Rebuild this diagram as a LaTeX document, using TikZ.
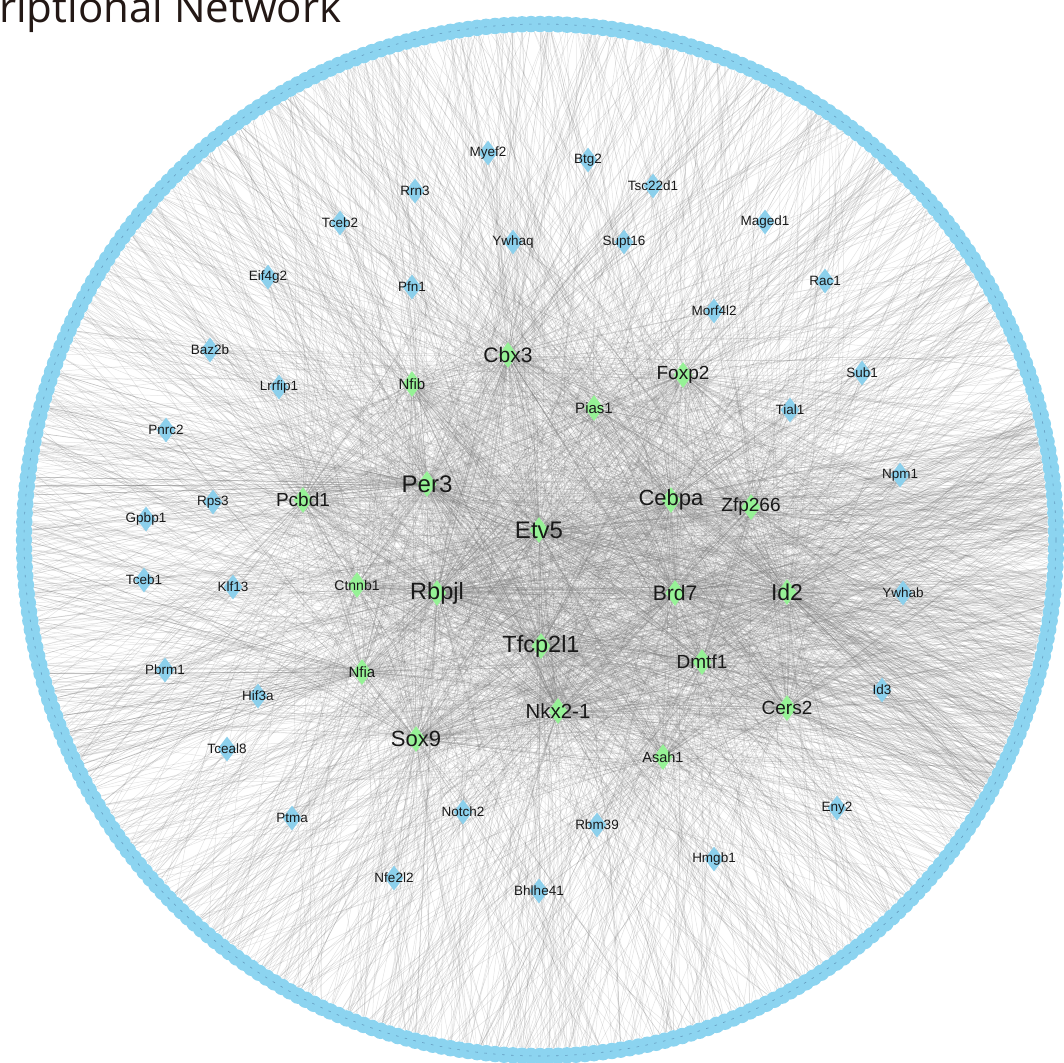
\documentclass[tikz,border=0pt]{standalone}
\usepackage{fontspec}
\setmainfont{Liberation Sans}
\newfontfamily\titlefont{Open Sans}
\usetikzlibrary{shapes.geometric}
\definecolor{ringblue}{RGB}{140,212,240}
\definecolor{ringdashc}{RGB}{100,155,190}
\definecolor{nodeblue}{RGB}{140,208,236}
\definecolor{nodegreen}{RGB}{150,242,150}
\definecolor{edgegray}{RGB}{115,115,115}
\definecolor{titlecol}{RGB}{35,24,21}
\definecolor{labcol}{RGB}{25,25,25}
\pgfdeclarelayer{edges}
\pgfsetlayers{edges,main}
\tikzset{
  ringnode/.style={circle, fill=ringblue, minimum size=16.5pt, inner sep=0pt},
  ringdash/.style={draw=ringdashc, line width=0.6pt, dash pattern=on 2.5pt off 6.5pt},
  bdia/.style={diamond, fill=nodeblue, minimum width=19pt, minimum height=25pt, inner sep=0pt},
  gdia/.style={diamond, fill=nodegreen, minimum width=19pt, minimum height=26pt, inner sep=0pt},
  genelab/.style={text=labcol, inner sep=0pt},
  edge/.style={draw=edgegray, line width=0.5pt, opacity=0.2},
}
\begin{document}
\begin{tikzpicture}[x=1pt,y=-1pt]
\useasboundingbox (0,0) rectangle (1064,1062);
% ring of target nodes
\foreach \i in {0,...,359}{
  \node[ringnode] (r\i) at ({540+516*cos(\i)},{540+516*sin(\i)}) {};
}
\draw[ringdash] (540,540) circle (516);
% title
\node[anchor=base west, inner sep=0pt, text=titlecol, font=\titlefont\fontsize{42}{42}\selectfont] (title) at (-1,23) {riptional Network};
% blue inner targets
\foreach \n/\x/\y/\t in {
  myef2/488/153/Myef2, btg2/588/160/Btg2, tsc22d1/653/186/Tsc22d1, rrn3/415/191/Rrn3,
  tceb2/340/223/Tceb2, maged1/765/222/Maged1, ywhaq/513/242/Ywhaq, supt16/624/242/Supt16,
  eif4g2/268/277/Eif4g2, pfn1/412/287/Pfn1, rac1/825/281/Rac1, morf4l2/714/311/Morf4l2,
  baz2b/210/350/Baz2b, lrrfip1/279/387/Lrrfip1, sub1/862/373/Sub1, tial1/790/410/Tial1,
  pnrc2/166/430/Pnrc2, npm1/900/475/Npm1, gpbp1/146/519/Gpbp1, rps3/213/502/Rps3,
  tceb1/144/580/Tceb1, klf13/233/587/Klf13, ywhab/903/593/Ywhab, pbrm1/165/670/Pbrm1,
  hif3a/258/696/Hif3a, id3/882/690/Id3, tceal8/227/749/Tceal8, ptma/292/818/Ptma,
  notch2/463/812/Notch2, rbm39/597/825/Rbm39, eny2/837/808/Eny2, hmgb1/714/859/Hmgb1,
  nfe2l2/394/878/Nfe2l2, bhlhe41/539/891/Bhlhe41}{
  \node[bdia] (\n) at (\x,\y) {};
  \node[genelab, font=\fontsize{13.5}{13.5}\selectfont] (\n-l) at (\n) {\t};
}
% green transcription factors
\foreach \n/\x/\y/\t/\s in {
  per3/427/484/Per3/24, etv5/539/530/Etv5/24, rbpjl/437/593/Rbpjl/23.5, tfcp2l1/541/646/Tfcp2l1/23.5,
  cebpa/671/500/Cebpa/22, brd7/675/593/Brd7/21, id2/787/592/Id2/23, nkx21/558/711/Nkx2-1/20.5,
  sox9/416/739/Sox9/22, cbx3/508/355/Cbx3/21, foxp2/683/375/Foxp2/19, zfp266/751/507/Zfp266/19,
  pcbd1/303/500/Pcbd1/19, dmtf1/702/662/Dmtf1/19, cers2/787/708/Cers2/19, nfib/412/384/Nfib/15,
  pias1/594/408/Pias1/15, ctnnb1/357/585/Ctnnb1/14, nfia/362/672/Nfia/15, asah1/663/757/Asah1/14.5}{
  \node[gdia] (\n) at (\x,\y) {};
  \node[genelab, font=\fontsize{\s}{\s}\selectfont] (\n-l) at (\n) {\t};
}
% connectors
\pgfmathsetseed{4242}
\begin{pgfonlayer}{edges}
\foreach \n/\d/\e in {etv5/170/40, per3/160/30, rbpjl/160/45, tfcp2l1/160/40, cebpa/150/45,
  brd7/140/45, id2/150/70, nkx21/140/35, sox9/130/20, cbx3/130/15, foxp2/90/20, zfp266/90/30,
  pcbd1/90/10, dmtf1/90/30, cers2/90/30, nfib/70/8, pias1/60/8, ctnnb1/60/8, nfia/60/8, asah1/60/15}{
  \foreach \j in {1,...,\d}{
    \pgfmathrandominteger{\k}{0}{359}
    \pgfmathrandominteger{\bb}{-9}{9}
    \draw[edge] (\n) to[bend left=\bb] (r\k);
  }
  \foreach \j in {1,...,\e}{
    \pgfmathrandominteger{\k}{-14}{32}
    \pgfmathtruncatemacro{\kk}{mod(\k+360,360)}
    \pgfmathrandominteger{\bb}{-9}{9}
    \draw[edge] (\n) to[bend left=\bb] (r\kk);
  }
}
\foreach \j in {1,...,45}{
  \pgfmathrandominteger{\k}{150}{178}
  \draw[edge] (nfia) -- (r\k);
}
\foreach \j in {1,...,40}{
  \pgfmathrandominteger{\k}{175}{200}
  \draw[edge] (per3) -- (r\k);
}
\foreach \a [count=\ia] in {etv5,per3,rbpjl,tfcp2l1,cebpa,brd7,id2,nkx21,sox9,cbx3,foxp2,zfp266,pcbd1,dmtf1,cers2,nfib,pias1,ctnnb1,nfia,asah1}{
  \foreach \b [count=\ib] in {etv5,per3,rbpjl,tfcp2l1,cebpa,brd7,id2,nkx21,sox9,cbx3,foxp2,zfp266,pcbd1,dmtf1,cers2,nfib,pias1,ctnnb1,nfia,asah1}{
    \ifnum\ib>\ia
      \pgfmathsetmacro\u{rnd}
      \ifdim\u pt<0.7pt \draw[edge] (\a) -- (\b); \draw[edge] (\a) to[bend left=3] (\b); \fi
    \fi
  }
}
\foreach \b in {myef2,btg2,tsc22d1,rrn3,tceb2,maged1,ywhaq,supt16,eif4g2,pfn1,rac1,morf4l2,
  baz2b,lrrfip1,sub1,tial1,pnrc2,npm1,gpbp1,rps3,tceb1,klf13,ywhab,pbrm1,hif3a,id3,tceal8,
  ptma,notch2,rbm39,eny2,hmgb1,nfe2l2,bhlhe41}{
  \foreach \a in {etv5,per3,rbpjl,tfcp2l1,cebpa,brd7,id2,nkx21,sox9,cbx3,foxp2,zfp266,pcbd1,dmtf1,cers2,nfib,pias1,ctnnb1,nfia,asah1}{
    \pgfmathsetmacro\u{rnd}
    \ifdim\u pt<0.3pt \draw[edge] (\a) -- (\b); \fi
  }
}
\end{pgfonlayer}
\end{tikzpicture}
\end{document}
